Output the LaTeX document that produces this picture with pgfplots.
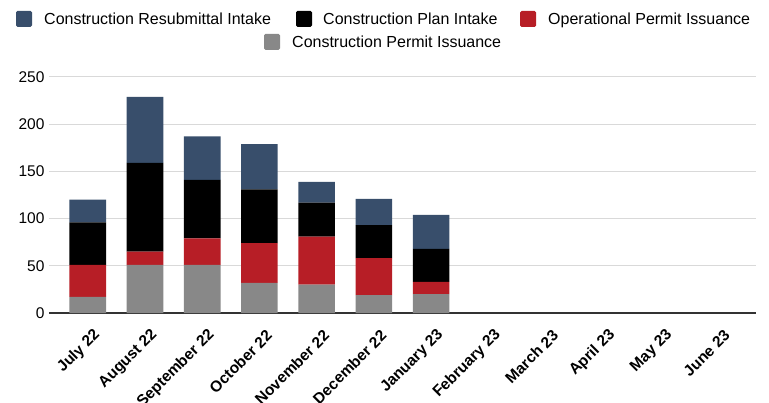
\documentclass[border=0pt]{standalone}
\usepackage{fontspec}
\setmainfont{Liberation Sans}
\usepackage{pgfplots}
\pgfplotsset{compat=1.18}
\usepackage{pgfplotstable}

\definecolor{resub}{RGB}{56,78,107}
\definecolor{plan}{RGB}{0,0,0}
\definecolor{oper}{RGB}{183,30,38}
\definecolor{cpermit}{RGB}{136,136,136}
\definecolor{gridc}{RGB}{217,217,217}

% month index, permit, operational, plan, resubmittal
\pgfplotstableread{
x cpermit oper plan resub
0 17 34 45 24
1 51 14 94 70
2 51 28 62 46
3 32 42 57 48
4 30 51 36 22
5 19 39 35 28
6 20 13 35 36
}\permits

\begin{document}
\begin{tikzpicture}
\path[use as bounding box] (0,0) rectangle (769pt,402pt);

\begin{axis}[
    at={(49pt,89pt)}, anchor=south west,
    scale only axis,
    width=707pt, height=236pt,
    ybar stacked,
    bar width=0.64,
    xmin=-0.677, xmax=11.677,
    ymin=0, ymax=250,
    ytick={0,50,...,250},
    xtick={0,...,11},
    xticklabels={July 22,August 22,September 22,October 22,November 22,December 22,January 23,February 23,March 23,April 23,May 23,June 23},
    x tick label style={rotate=45, anchor=east, font=\bfseries\fontsize{15.5}{15.5}\selectfont, xshift=-7pt, yshift=-21pt, inner sep=0pt},
    y tick label style={font=\fontsize{15.5}{15.5}\selectfont, xshift=-1pt},
    /pgf/number format/assume math mode=true,
    axis x line*=bottom,
    axis y line*=left,
    y axis line style={draw=none},
    ymajorgrids,
    grid style={gridc, line width=1pt},
    x axis line style={draw=black!80, line width=1.2pt},
    major tick length=0pt,
    tick style={draw=none},
    clip=false,
]
\addplot[fill=cpermit, draw=none] table[x=x, y=cpermit] {\permits};
\addplot[fill=oper, draw=none] table[x=x, y=oper] {\permits};
\addplot[fill=plan, draw=none] table[x=x, y=plan] {\permits};
\addplot[fill=resub, draw=none] table[x=x, y=resub] {\permits};
\end{axis}

% legend
\begin{scope}[every node/.style={font=\fontsize{16}{16}\selectfont, inner sep=0pt, anchor=base west}]
\fill[resub, rounded corners=1.5pt] (16pt,375pt) rectangle (32pt,391pt);
\node at (44pt,377.5pt) {Construction Resubmittal Intake};
\fill[plan, rounded corners=1.5pt] (296pt,375pt) rectangle (312pt,391pt);
\node at (323pt,377.5pt) {Construction Plan Intake};
\fill[oper, rounded corners=1.5pt] (520pt,375pt) rectangle (536pt,391pt);
\node at (548pt,377.5pt) {Operational Permit Issuance};
\fill[cpermit, rounded corners=1.5pt] (264pt,352pt) rectangle (280pt,368pt);
\node at (292pt,354.5pt) {Construction Permit Issuance};
\end{scope}
\end{tikzpicture}
\end{document}
